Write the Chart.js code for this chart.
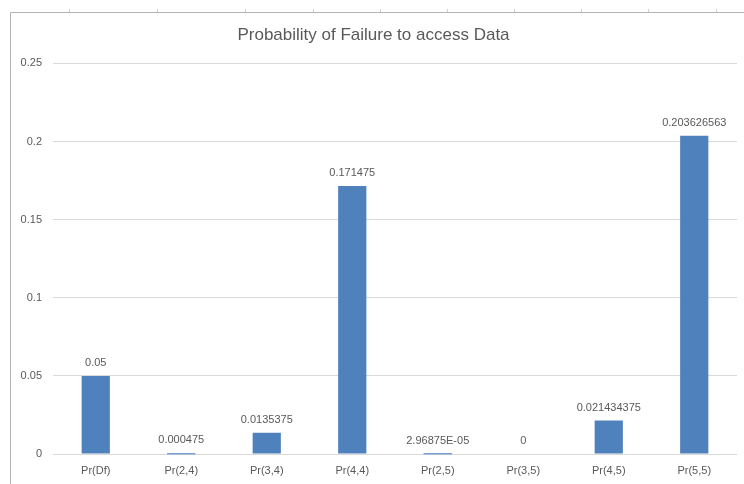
<!DOCTYPE html>
<html>
<head>
<meta charset="utf-8">
<script src="https://cdn.jsdelivr.net/npm/chart.js@4/dist/chart.umd.min.js"></script>
<style>
  html, body { margin: 0; padding: 0; background: #fff; }
  #wrap { width: 744px; height: 484px; }
</style>
</head>
<body>
<div id="wrap"><canvas id="chart" width="744" height="484"></canvas></div>
<script>
// chart data
var categories = ['Pr(Df)', 'Pr(2,4)', 'Pr(3,4)', 'Pr(4,4)', 'Pr(2,5)', 'Pr(3,5)', 'Pr(4,5)', 'Pr(5,5)'];
var values = [0.05, 0.000475, 0.0135375, 0.171475, 0.0000296875, 0, 0.021434375, 0.203626563];
var valueLabels = ['0.05', '0.000475', '0.0135375', '0.171475', '2.96875E-05', '0', '0.021434375', '0.203626563'];
var yMin = 0, yMax = 0.25, yStep = 0.05;
var title = 'Probability of Failure to access Data';

var textColor = '#595959';
var fontFamily = '"Liberation Sans", Arial, sans-serif';

// sheet frame behind the chart (column borders of the spreadsheet)
var frameColumns = [69, 157, 245, 313, 380, 447, 514, 581, 648, 716];
var framePlugin = {
    id: 'frame',
    beforeDraw: function (chart) {
        var ctx = chart.ctx;
        ctx.save();
        ctx.strokeStyle = '#b4b4b4';
        ctx.lineWidth = 1;
        ctx.beginPath();
        ctx.moveTo(10.5, 12.5);
        ctx.lineTo(744, 12.5);
        ctx.moveTo(10.5, 12.5);
        ctx.lineTo(10.5, 484);
        ctx.stroke();
        ctx.strokeStyle = '#d0d0d0';
        ctx.beginPath();
        frameColumns.forEach(function (x) {
            ctx.moveTo(x + 0.5, 9);
            ctx.lineTo(x + 0.5, 12);
        });
        ctx.stroke();
        ctx.restore();
    }
};

// value labels above each bar; very small non-zero bars still get a 1px sliver like Excel
var labelPlugin = {
    id: 'valueLabels',
    afterDatasetsDraw: function (chart) {
        var ctx = chart.ctx;
        var meta = chart.getDatasetMeta(0);
        ctx.save();
        meta.data.forEach(function (bar, i) {
            if (values[i] > 0 && bar.base - bar.y < 1) {
                ctx.fillStyle = '#7b9fd0';
                ctx.fillRect(bar.x - bar.width / 2, Math.round(bar.base) - 1, bar.width, 1.5);
            }
        });
        ctx.font = '11px ' + fontFamily;
        ctx.fillStyle = textColor;
        ctx.textAlign = 'center';
        ctx.textBaseline = 'middle';
        meta.data.forEach(function (bar, i) {
            ctx.fillText(valueLabels[i], bar.x, bar.y - 13);
        });
        ctx.restore();
    }
};

new Chart(document.getElementById('chart').getContext('2d'), {
    type: 'bar',
    data: {
        labels: categories,
        datasets: [{
            data: values,
            backgroundColor: '#4f81bd',
            borderWidth: 0,
            barPercentage: 0.33,
            categoryPercentage: 1
        }]
    },
    options: {
        responsive: false,
        animation: false,
        layout: { padding: { left: 10, right: 7, top: 25, bottom: 4 } },
        plugins: {
            legend: { display: false },
            tooltip: { enabled: false },
            title: {
                display: true,
                text: title,
                color: textColor,
                font: { family: fontFamily, size: 17, weight: 'normal' },
                padding: { top: 0, bottom: 18 }
            }
        },
        scales: {
            x: {
                grid: { display: false, drawTicks: false },
                border: { display: false },
                ticks: { color: textColor, font: { family: fontFamily, size: 11 }, padding: 10, maxRotation: 0 },
                afterFit: function (scale) { scale.height = 26; }
            },
            y: {
                min: yMin,
                max: yMax,
                grid: { color: '#d9d9d9', drawTicks: false },
                border: { display: false },
                ticks: {
                    stepSize: yStep,
                    color: textColor,
                    font: { family: fontFamily, size: 11 },
                    padding: 11,
                    callback: function (v) { return String(+v.toFixed(2)); }
                },
                afterFit: function (scale) { scale.width = 43; }
            }
        }
    },
    plugins: [framePlugin, labelPlugin]
});
</script>
</body>
</html>
